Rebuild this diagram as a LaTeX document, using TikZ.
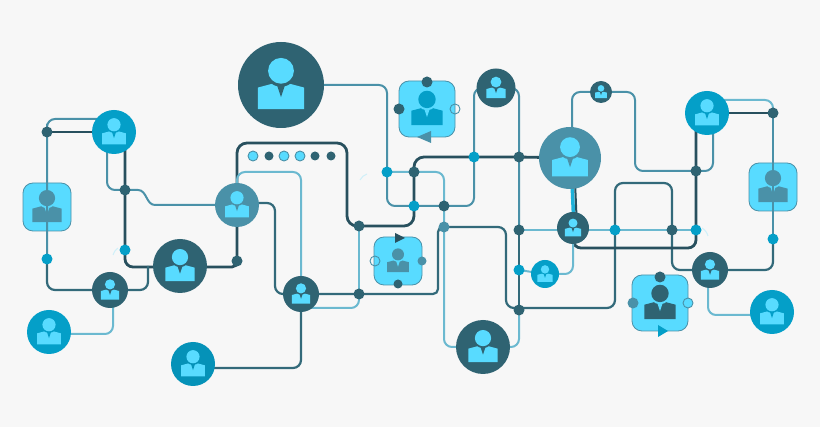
\documentclass[tikz,border=0pt]{standalone}
\usetikzlibrary{positioning}

\definecolor{bgc}{HTML}{F7F7F7}
\definecolor{darkc}{HTML}{2F6372}
\definecolor{deepc}{HTML}{28505E}
\definecolor{bluec}{HTML}{049FC8}
\definecolor{seac}{HTML}{0592B8}
\definecolor{lightc}{HTML}{58DBFF}
\definecolor{midc}{HTML}{4A91A8}
\definecolor{palec}{HTML}{6BB9D0}

\pgfdeclarelayer{back}
\pgfdeclarelayer{lines}
\pgfsetlayers{back,lines,main}

\tikzset{
  hub/.style={circle, inner sep=0pt, minimum size=2*#1},
  panel/.style={rectangle, rounded corners=10pt, inner sep=0pt, minimum size=2*#1, fill=lightc, draw=midc, line width=0.8pt},
  dotdark/.style={circle, inner sep=0pt, minimum size=11pt, fill=darkc},
  dotblue/.style={circle, inner sep=0pt, minimum size=11pt, fill=bluec},
  dotmid/.style={circle, inner sep=0pt, minimum size=11pt, fill=midc},
  dotring/.style={circle, inner sep=0pt, minimum size=10pt, fill=lightc, draw=midc, line width=0.9pt},
  wire/.style={rounded corners=8pt},
  thickline/.style={wire, line width=2.8pt, draw=deepc},
  darkline/.style={wire, line width=2.2pt, draw=darkc!85!midc},
  midline/.style={wire, line width=2pt, draw=midc},
  paleline/.style={wire, line width=2pt, draw=palec},
  faintline/.style={line width=1pt, draw=lightc!25!bgc}
}

% one figure: arguments are node, size, figure colour, colour behind it
\newcommand{\person}[4]{%
  \begin{scope}[shift={(#1.center)}, scale=#2]
    \fill[#3] (-.54,.56) -- (-.54,.06) -- (-.2,-.03) -- (.2,-.03) -- (.54,.06) -- (.54,.56) -- cycle;
    \fill[#4] (0,-.33) circle[radius=.37];
    \fill[#4] (-.1,-.02) -- (.1,-.02) -- (0,.28) -- cycle;
    \fill[#3] (0,-.33) circle[radius=.3];
  \end{scope}}

\begin{document}
\begin{tikzpicture}[x=1pt, y=-1pt]

  \useasboundingbox (0,0) rectangle (820,427);

  % Panels that the wires run across
  \begin{pgfonlayer}{back}
    \fill[bgc] (0,0) rectangle (820,427);
    \node[panel=24] (lsq) at (47,207) {};
    \person{lsq}{27}{midc}{lightc}
    \node[panel=24] (rsq) at (773,187) {};
    \person{rsq}{27}{midc}{lightc}
  \end{pgfonlayer}

  % Round hubs
  \node[hub=43, fill=darkc] (bigtop) at (281,85) {};
  \node[hub=22, fill=bluec] (ltop) at (114,132) {};
  \node[hub=22, fill=midc] (lmid) at (237,205) {};
  \node[hub=27, fill=darkc] (lbig) at (180,266) {};
  \node[hub=18, fill=darkc] (llow) at (110,290) {};
  \node[hub=22, fill=bluec] (lblue) at (49,332) {};
  \node[hub=22, fill=seac] (lbot) at (193,364) {};
  \node[hub=19.5, fill=darkc] (ttop) at (496,88) {};
  \node[hub=18, fill=darkc] (mlow) at (301,294) {};
  \node[hub=27, fill=darkc] (mbig) at (483,347) {};
  \node[hub=31, fill=midc] (rbig) at (570,158) {};
  \node[hub=11, fill=darkc] (rtop) at (601,92) {};
  \node[hub=22, fill=bluec] (rhub) at (707,113) {};
  \node[hub=16, fill=darkc] (rmid) at (573,228) {};
  \node[hub=14, fill=bluec] (rsmall) at (545,274) {};
  \node[hub=18, fill=darkc] (rlow) at (710,270) {};
  \node[hub=22, fill=bluec] (rblue) at (772,312) {};

  \person{bigtop}{43}{lightc}{darkc}
  \person{ltop}{22}{lightc}{bluec}
  \person{lmid}{22}{lightc}{midc}
  \person{lbig}{27}{lightc}{darkc}
  \person{llow}{17}{lightc}{darkc}
  \person{lblue}{22}{lightc}{bluec}
  \person{lbot}{22}{lightc}{seac}
  \person{ttop}{18}{lightc}{darkc}
  \person{mlow}{17}{lightc}{darkc}
  \person{mbig}{27}{lightc}{darkc}
  \person{rbig}{33}{lightc}{midc}
  \person{rtop}{11}{lightc}{darkc}
  \person{rhub}{22}{lightc}{bluec}
  \person{rmid}{15}{lightc}{darkc}
  \person{rsmall}{14}{lightc}{bluec}
  \person{rlow}{17}{lightc}{darkc}
  \person{rblue}{22}{lightc}{bluec}

  % Top panel
  \node[panel=28] (tsq) at (427,109) {};
  \person{tsq}{29}{bluec}{lightc}
  \node[dotdark] (tsqn) at (427,82) {};
  \node[dotdark] (tsqw) at (399,109) {};
  \node[dotring, fill=none] (tsqe) at (455,109) {};
  \fill[midc] (417,137) -- (431,131) -- (431,143) -- cycle;

  % Middle panel
  \node[panel=24] (msq) at (398,261) {};
  \person{msq}{20}{midc}{lightc}
  \node[dotring, fill=none] (msqw) at (375,261) {};
  \node[dotmid, minimum size=9pt] (msqe) at (422,261) {};
  \node[dotdark, minimum size=9pt] (msqs) at (398,284) {};
  \fill[deepc] (395,233) -- (395,243) -- (405,238) -- cycle;

  % Lower right panel
  \node[panel=28] (rsq2) at (660,303) {};
  \person{rsq2}{29}{darkc}{lightc}
  \node[dotdark] (rsqn) at (660,277) {};
  \node[dotmid] (rsqw) at (633,303) {};
  \node[dotring] (rsqe) at (688,303) {};
  \fill[bluec] (658,325) -- (658,337) -- (668,331) -- cycle;

  % Window dots
  \node[dotring] (win1) at (253,156) {};
  \node[dotdark, minimum size=9pt] (win2) at (269,156) {};
  \node[dotring] (win3) at (284,156) {};
  \node[dotring] (win4) at (300,156) {};
  \node[dotdark, minimum size=9pt] (win5) at (315,156) {};
  \node[dotdark, minimum size=9pt] (win6) at (331,156) {};

  % Junctions
  \node[dotdark] (jlt) at (47,132) {};
  \node[dotblue] (jlb) at (47,259) {};
  \node[dotdark] (jc1) at (125,190) {};
  \node[dotblue] (jc2) at (125,250) {};
  \node[dotdark] (jd) at (237,261) {};
  \node[dotblue] (j1) at (387,172) {};
  \node[dotdark] (j2) at (414,172) {};
  \node[dotblue] (j3) at (414,206) {};
  \node[dotdark] (j4) at (444,206) {};
  \node[dotblue] (j5) at (474,157) {};
  \node[dotdark] (j6) at (519,157) {};
  \node[dotdark] (j7) at (359,226) {};
  \node[dotmid] (j8) at (444,227) {};
  \node[dotdark] (j9) at (359,294) {};
  \node[dotdark] (j10) at (519,230) {};
  \node[dotblue] (j11) at (519,270) {};
  \node[dotdark] (j12) at (519,310) {};
  \node[dotblue] (j13) at (615,230) {};
  \node[dotdark] (j14) at (672,230) {};
  \node[dotblue] (j15) at (696,230) {};
  \node[dotblue] (j16) at (773,239) {};
  \node[dotdark] (j17) at (696,171) {};
  \node[dotdark] (j18) at (773,113) {};

  % Wires
  \begin{pgfonlayer}{lines}
    % left group
    \draw[midline] ([yshift=13pt]ltop.center) -| (jlt.center) -- (lsq.center) -- (jlb.center);
    \draw[darkline] (jlb.center) |- (llow.center);
    \draw[thickline] (jlt.center) -- (ltop.center);
    \draw[thickline] ([xshift=11pt]ltop.center) -- (jc1.center) |- ([yshift=-1pt]lbig.center);
    \draw[midline] ([xshift=-7pt]ltop.center) |- (jc1.center);
    \draw[line width=2pt, draw=midc] (jc1.center) -- ++(13,0) .. controls +(9,0) and +(-9,0) .. ++(17,15) -- (lmid.center);
    \draw[darkline] (llow.center) -| ([xshift=-32pt]lbig.center);
    \draw[paleline] ([xshift=3pt]llow.center) |- ([yshift=-2pt]lblue.center);
    \draw[thickline, rounded corners=5pt] ([yshift=-1pt]lbig.center) -| (jd.center) -- (lmid.center);
    \draw[darkline] ([yshift=-4pt]lbot.center) -| (mlow.center);

    % window
    \draw[thickline, rounded corners=10pt] (lmid.center) |- (347,143) |- (j3.center |- j7.center) |- (j5.center) -- (j6.center) -- (rbig.center);
    \draw[paleline] (lmid.center) |- (301,172) -- (mlow.center);
    \draw[darkline] ([yshift=2pt]lmid.center) -| (275,294) -- (mlow.center);

    % middle group
    \draw[midline] (bigtop.center) -| (j1.center) |- (j3.center) -- (j4.center) -| (j5.center) |- (ttop.center);
    \draw[paleline] (j1.center) -- (j2.center) -| (j4.center) -- (j8.center) |- (mbig.center);
    \draw[paleline] (j7.center) -- (j9.center);
    \draw[paleline] ([yshift=-14pt]mlow.center) -| (j9.center);
    \draw[darkline, rounded corners=5pt] (mlow.center) -- (j9.center) -| ([xshift=-6pt]j8.center) -- (j8.center);
    \draw[darkline] (j8.center) -| (506,308) -- ([yshift=2pt]j12.center);
    \draw[midline] (ttop.center) -| (j6.center) -- (j10.center);
    \draw[darkline] (j10.center) -- (j11.center) -- (j12.center);
    \draw[paleline] (j12.center) |- (mbig.center);

    % right group
    \draw[darkline] ([yshift=2pt]j12.center) -| (j13.center) |- (672,183) -- (j14.center) |- (rlow.center);
    \draw[darkline] (rlow.center) -| (j16.center);
    \draw[midline] (j16.center) -- (rsq.center) -- (j18.center);
    \draw[paleline] ([xshift=-2pt]rlow.center) |- ([yshift=-3pt]rblue.center);
    \draw[midline] ([xshift=2pt]rbig.center) |- (rtop.center) -| (635,171) -- (j17.center) -| ([xshift=6pt]rhub.center);
    \draw[thickline] ([xshift=-11pt]rhub.center) -- (j17.center) -- (j15.center) |- ([yshift=-20pt]rmid.center) -- (rmid.center);
    \draw[line width=3.5pt, draw=bluec!70!lightc] ([xshift=1pt]rbig.center) -- ([xshift=1pt]rmid.center);
    \draw[line width=2pt, draw=deepc] ([xshift=4pt]rbig.center) -- ([xshift=4pt]rmid.center);
    \draw[paleline] (j10.center) -- (j10.center -| rmid.center) -- (j13.center) -- (j14.center) -- (j15.center);
    \draw[paleline] (rmid.center) |- (rsmall.center);
    \draw[paleline] (j11.center) -- (rsmall.center);
    \draw[paleline] ([yshift=13pt]rhub.center) -| (j18.center);
    \draw[thickline] (rhub.center) -- (j18.center);

    % faint marks
    \draw[faintline] (113,255) to[bend left=20] (118,248);
    \draw[faintline] (360,180) to[bend left=20] (367,174);
    \draw[faintline] (702,228) to[bend left=20] (708,236);
  \end{pgfonlayer}

\end{tikzpicture}
\end{document}
